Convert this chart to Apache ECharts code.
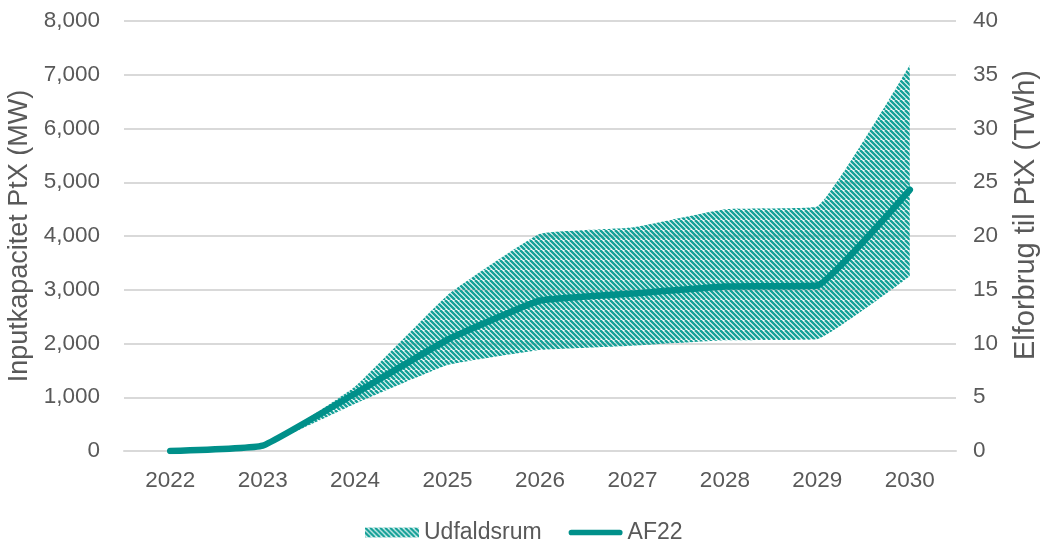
<!DOCTYPE html>
<html><head><meta charset="utf-8">
<script src="https://cdn.jsdelivr.net/npm/echarts@6/dist/echarts.min.js"></script>
<style>html,body{margin:0;padding:0;background:#fff}#c{width:1040px;height:542px}</style>
</head><body><div id="c"></div>
<script>
const years = ['2022','2023','2024','2025','2026','2027','2028','2029','2030'];
const af22 = [0, 100, 1070, 2070, 2800, 2930, 3060, 3080, 4860];
const bandLow = [0, 100, 880, 1600, 1880, 1960, 2060, 2080, 3250];
const bandHigh = [0, 100, 1200, 2900, 4040, 4160, 4500, 4550, 7180];
const leftMax = 8000, leftStep = 1000;
const rightMax = 40, rightStep = 5;

function makeHatch(){
  const c = document.createElement('canvas');
  c.width = 10; c.height = 10;
  const g = c.getContext('2d');
  g.strokeStyle = '#15a198';
  g.lineWidth = 2.5;
  for (let k = -20; k <= 20; k += 5) {
    g.beginPath(); g.moveTo(k, 0); g.lineTo(k + 10, 10); g.stroke();
  }
  return {image: c, repeat: 'repeat'};
}
const hatch = makeHatch();
const diff = bandHigh.map((v, i) => v - bandLow[i]);
const txt = '#595959';
const font = 'Liberation Sans, Arial, sans-serif';
const sm = 0.1;

const chart = echarts.init(document.getElementById('c'));
chart.setOption({
  animation: false,
  grid: {left: 124, right: 84, top: 21, bottom: 91, outerBoundsMode: 'none', containLabel: false},
  legend: {
    top: 516, left: 360, itemWidth: 54, itemHeight: 10, itemGap: 27,
    textStyle: {color: txt, fontSize: 23, fontFamily: font},
    data: [
      {name: 'Udfaldsrum', icon: 'rect', itemStyle: {color: hatch}},
      {name: 'AF22', icon: 'path://M3,0 L54,0 A3,3 0 0 1 54,6 L3,6 A3,3 0 0 1 3,0 Z', itemStyle: {color: '#00908a'}}
    ]
  },
  xAxis: {
    type: 'category', data: years, boundaryGap: true,
    axisLine: {lineStyle: {color: '#d9d9d9', width: 2}},
    axisTick: {show: false},
    axisLabel: {color: txt, fontSize: 22.5, fontFamily: font, margin: 18}
  },
  yAxis: [{
    type: 'value', min: 0, max: leftMax, interval: leftStep,
    name: 'Inputkapacitet PtX (MW)', nameLocation: 'middle', nameGap: 86,
    nameTextStyle: {color: txt, fontSize: 27, fontFamily: font},
    axisLabel: {color: txt, fontSize: 22.5, fontFamily: font, margin: 24,
      formatter: v => v.toLocaleString('en-US')},
    splitLine: {lineStyle: {color: '#d9d9d9', width: 2}},
    axisLine: {show: false}, axisTick: {show: false}
  }, {
    type: 'value', min: 0, max: rightMax, interval: rightStep, position: 'right',
    name: 'Elforbrug til PtX (TWh)', nameLocation: 'middle', nameGap: 55, nameRotate: 90,
    nameTextStyle: {color: txt, fontSize: 29, fontFamily: font, padding: [0, 0, 0, 42]},
    axisLabel: {color: txt, fontSize: 22.5, fontFamily: font, margin: 17},
    splitLine: {show: false}, axisLine: {show: false}, axisTick: {show: false}
  }],
  series: [
    {name: 'low', type: 'line', stack: 'band', data: bandLow, symbol: 'none', smooth: sm,
      lineStyle: {opacity: 0}, silent: true},
    {name: 'Udfaldsrum', type: 'line', stack: 'band', data: diff, symbol: 'none', smooth: sm,
      lineStyle: {opacity: 0}, itemStyle: {color: '#15a198'},
      areaStyle: {color: hatch, opacity: 1}},
    {name: 'AF22', type: 'line', data: af22, symbol: 'none', smooth: sm,
      lineStyle: {color: '#00908a', width: 6.5, cap: 'round', join: 'round'},
      itemStyle: {color: '#00908a'}}
  ]
});
</script></body></html>
